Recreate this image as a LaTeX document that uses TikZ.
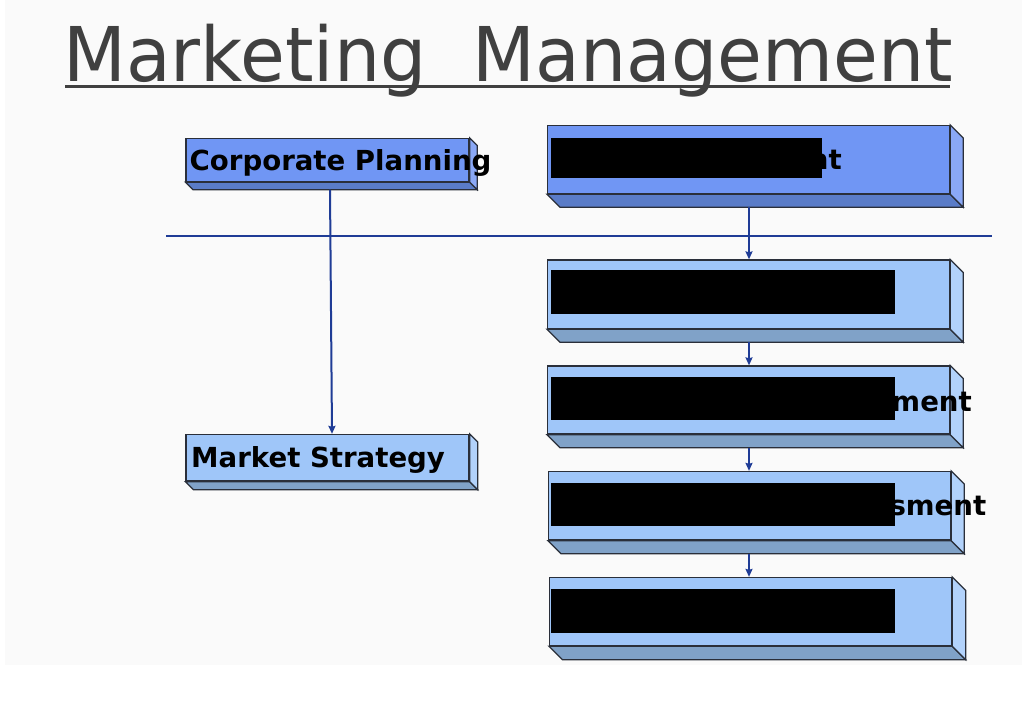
\documentclass[tikz,border=0pt]{standalone}
\usepackage{fontspec}
\setmainfont{DejaVu Sans}
\usetikzlibrary{fit,calc,arrows.meta}
\definecolor{bgc}{HTML}{FAFAFA}
\definecolor{titlec}{HTML}{404040}
\definecolor{edgec}{HTML}{2A2F3A}
\definecolor{linec}{HTML}{1F3C96}
\definecolor{midfront}{HTML}{7096F4}
\definecolor{midbottom}{HTML}{5A7CC8}
\definecolor{midside}{HTML}{8AA8F6}
\definecolor{ltfront}{HTML}{9FC6F9}
\definecolor{ltbottom}{HTML}{80A2C8}
\definecolor{ltside}{HTML}{B2D2FB}
\tikzset{
  frontface/.style={draw=edgec, line width=1.3pt, inner sep=0pt, line join=miter},
  depthface/.style={draw=edgec, line width=1.3pt, line join=miter},
  lbl/.style={font=\fontsize{27.6}{32}\selectfont\bfseries, text=black, inner sep=0pt},
  redact/.style={fill=black, draw=none},
  arr/.style={draw=linec, line width=2pt, -{Stealth[length=8pt,width=7pt,inset=1pt]}},
  rule/.style={draw=linec, line width=1.5pt}
}
% #1 name, #2 x1, #3 y1, #4 x2, #5 y2, #6 depth, #7 front, #8 bottom, #9 side
\newcommand\threedbox[9]{%
  \coordinate (#1-nw) at (#2,#3);
  \coordinate (#1-se) at (#4,#5);
  \node[frontface, fill=#7, fit=(#1-nw)(#1-se)] (#1) {};
  \path[depthface, fill=#8] (#1.south west) -- ++(#6,#6) -- ($(#1.south east)+(#6,#6)$) -- (#1.south east) -- cycle;
  \path[depthface, fill=#9] (#1.north east) -- ++(#6,#6) -- ($(#1.south east)+(#6,#6)$) -- (#1.south east) -- cycle;
}
\begin{document}
\begin{tikzpicture}[x=1pt,y=-1pt]
\useasboundingbox (0,0) rectangle (1022,706);
\fill[bgc] (5,0) rectangle (1022,665);
% title
\node[anchor=base, inner sep=0pt, text=titlec, font=\fontsize{75.5}{80}\selectfont] (title) at (508,82) {\scalebox{0.965}[1]{Marketing\ \ Management}};
\coordinate (ul-l) at (65,86.5);
\coordinate (ul-r) at (950,86.5);
\draw[draw=titlec, line width=2.8pt] (ul-l) -- (ul-r);
% divider
\coordinate (div-l) at (166,236);
\coordinate (div-r) at (992,236);
\draw[rule] (div-l) -- (div-r);
% left boxes
\threedbox{cp}{186}{138.5}{469}{181.5}{7.5}{midfront}{midbottom}{midside}
\threedbox{ms}{186}{434.5}{469}{481}{8}{ltfront}{ltbottom}{ltside}
\node[lbl, anchor=base west] (cpt) at (189.5,170) {Corporate Planning};
\node[lbl, anchor=base west] (mst) at (191,467) {Market Strategy};
% right boxes
\threedbox{b1}{547.5}{125.5}{949.5}{193.5}{13}{midfront}{midbottom}{midside}
\threedbox{b2}{547.5}{260}{949.5}{328.5}{13}{ltfront}{ltbottom}{ltside}
\threedbox{b3}{547.5}{366}{949.5}{434}{13}{ltfront}{ltbottom}{ltside}
\threedbox{b4}{548.5}{471.5}{950.5}{540}{13}{ltfront}{ltbottom}{ltside}
\threedbox{b5}{549.5}{577.5}{951.5}{645.5}{13.5}{ltfront}{ltbottom}{ltside}
% visible text fragments
\node[lbl, anchor=base east] (b1t) at (842,169) {nt};
\node[lbl, anchor=base east] (b3t) at (972,411) {ment};
\node[lbl, anchor=base east] (b4t) at (986.5,515.5) {sment};
% redaction blocks
\fill[redact] (551,138) rectangle (822,177.5);
\fill[redact] (551,270) rectangle (895,313.5);
\fill[redact] (551,376.5) rectangle (895,420);
\fill[redact] (551,482.5) rectangle (895,526);
\fill[redact] (551,588.5) rectangle (895,632.5);
% connectors
\draw[arr] ($(cp.south)+(2.5,7.5)$) -- ($(ms.north)+(4.5,0)$);
\draw[arr] ($(b1.south)+(0.5,13)$) -- ($(b2.north)+(0.5,0)$);
\draw[arr] ($(b2.south)+(0.5,13)$) -- ($(b3.north)+(0.5,0)$);
\draw[arr] ($(b3.south)+(0.5,13)$) -- ($(b4.north)+(-0.5,0)$);
\draw[arr] ($(b4.south)+(-0.5,13)$) -- ($(b5.north)+(-1.5,0)$);
\end{tikzpicture}
\end{document}
